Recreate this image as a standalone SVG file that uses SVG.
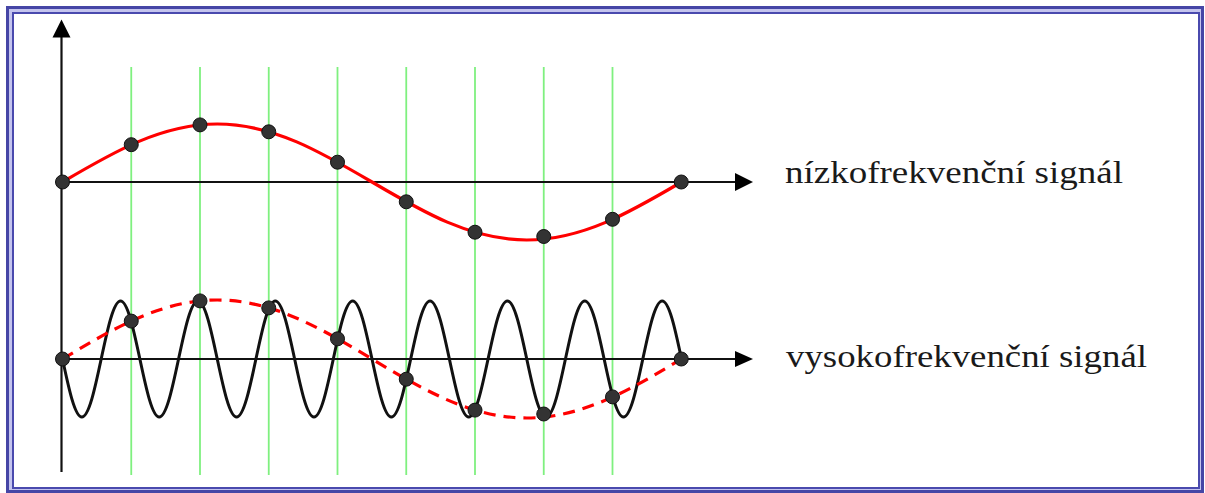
<svg xmlns="http://www.w3.org/2000/svg" width="1205" height="493" viewBox="0 0 1205 493">
<style>
.grid{stroke:#7ff07f;stroke-width:1.8;fill:none}
.axis{stroke:#111;stroke-width:2.2;fill:none}
.head{fill:#000}
.low{stroke:#ff0000;stroke-width:3.2;fill:none;stroke-linejoin:round;stroke-linecap:round}
.dash{stroke-dasharray:12 8;stroke-linecap:butt}
.high{stroke:#111;stroke-width:3;fill:none;stroke-linejoin:round}
.dot{fill:#333;stroke:#111;stroke-width:1}
.lbl{font-family:"Liberation Serif","Times New Roman",serif;font-size:31px;fill:#1a1a1a}
</style>
<rect width="1205" height="493" fill="#fff"/>
<g id="frame">
<rect x="7.5" y="7.5" width="1195" height="484" fill="#c4c4ee" stroke="#4646a6" stroke-width="3"/>
<rect x="13" y="13" width="1186" height="475" fill="#fff" stroke="#4a4aae" stroke-width="2"/>
</g>
<g id="grid">
<line class="grid" x1="131.25" y1="67" x2="131.25" y2="475"/>
<line class="grid" x1="200" y1="67" x2="200" y2="475"/>
<line class="grid" x1="268.75" y1="67" x2="268.75" y2="475"/>
<line class="grid" x1="337.5" y1="67" x2="337.5" y2="475"/>
<line class="grid" x1="406.25" y1="67" x2="406.25" y2="475"/>
<line class="grid" x1="475" y1="67" x2="475" y2="475"/>
<line class="grid" x1="543.75" y1="67" x2="543.75" y2="475"/>
<line class="grid" x1="612.5" y1="67" x2="612.5" y2="475"/>
</g>
<g id="connectors">
<g id="y-axis">
<line class="axis" x1="61.5" y1="472" x2="61.5" y2="36"/>
<polygon class="head" points="61.5,19.5 70.5,37.5 52.5,37.5"/>
</g>
<g id="axis-low">
<line class="axis" x1="61.5" y1="182" x2="737" y2="182"/>
<polygon class="head" points="753,182 735,173 735,191"/>
</g>
<g id="axis-high">
<line class="axis" x1="61.5" y1="359" x2="737" y2="359"/>
<polygon class="head" points="753,359 735,351 735,367"/>
</g>
</g>
<g id="low-signal">
<path class="low" d="M62.5,182 c50.46,-29.71 98.75,-58 154.75,-58 s104.29,28.29 154.75,58 s98.75,58 154.75,58 s104.29,-28.29 154.75,-58"/>
<circle class="dot" cx="62.5" cy="182" r="7"/>
<circle class="dot" cx="131.25" cy="144.7" r="7"/>
<circle class="dot" cx="200" cy="124.9" r="7"/>
<circle class="dot" cx="268.75" cy="131.8" r="7"/>
<circle class="dot" cx="337.5" cy="162.2" r="7"/>
<circle class="dot" cx="406.25" cy="201.8" r="7"/>
<circle class="dot" cx="475" cy="232.2" r="7"/>
<circle class="dot" cx="543.75" cy="236.5" r="7"/>
<circle class="dot" cx="612.5" cy="219.3" r="7"/>
<circle class="dot" cx="681.25" cy="182" r="7"/>
</g>
<g id="high-signal">
<path class="high" d="M62.5,359 c6.308,29.71 12.344,58 19.344,58 s13.036,-28.29 19.344,-58 s12.344,-58 19.344,-58 s13.036,28.29 19.344,58
s12.344,58 19.344,58 s13.036,-28.29 19.344,-58 s12.344,-58 19.344,-58 s13.036,28.29 19.344,58
s12.344,58 19.344,58 s13.036,-28.29 19.344,-58 s12.344,-58 19.344,-58 s13.036,28.29 19.344,58
s12.344,58 19.344,58 s13.036,-28.29 19.344,-58 s12.344,-58 19.344,-58 s13.036,28.29 19.344,58
s12.344,58 19.344,58 s13.036,-28.29 19.344,-58 s12.344,-58 19.344,-58 s13.036,28.29 19.344,58
s12.344,58 19.344,58 s13.036,-28.29 19.344,-58 s12.344,-58 19.344,-58 s13.036,28.29 19.344,58
s12.344,58 19.344,58 s13.036,-28.29 19.344,-58 s12.344,-58 19.344,-58 s13.036,28.29 19.344,58
s12.344,58 19.344,58 s13.036,-28.29 19.344,-58 s12.344,-58 19.344,-58 s13.036,28.29 19.344,58"/>
<path class="low dash" d="M62.5,359 c50.46,-30.23 98.75,-59 154.75,-59 s104.29,28.77 154.75,59 s98.75,59 154.75,59 s104.29,-28.77 154.75,-59"/>
<circle class="dot" cx="62.5" cy="359" r="7"/>
<circle class="dot" cx="131.25" cy="321.1" r="7"/>
<circle class="dot" cx="200" cy="300.9" r="7"/>
<circle class="dot" cx="268.75" cy="307.9" r="7"/>
<circle class="dot" cx="337.5" cy="338.8" r="7"/>
<circle class="dot" cx="406.25" cy="379.2" r="7"/>
<circle class="dot" cx="475" cy="410.1" r="7"/>
<circle class="dot" cx="543.75" cy="414" r="7"/>
<circle class="dot" cx="612.5" cy="396.9" r="7"/>
<circle class="dot" cx="681.25" cy="359" r="7"/>
</g>
<g id="labels">
<text class="lbl" x="785" y="183" textLength="338" lengthAdjust="spacingAndGlyphs">nízkofrekvenční signál</text>
<text class="lbl" x="786" y="366.5" textLength="361" lengthAdjust="spacingAndGlyphs">vysokofrekvenční signál</text>
</g>
</svg>
